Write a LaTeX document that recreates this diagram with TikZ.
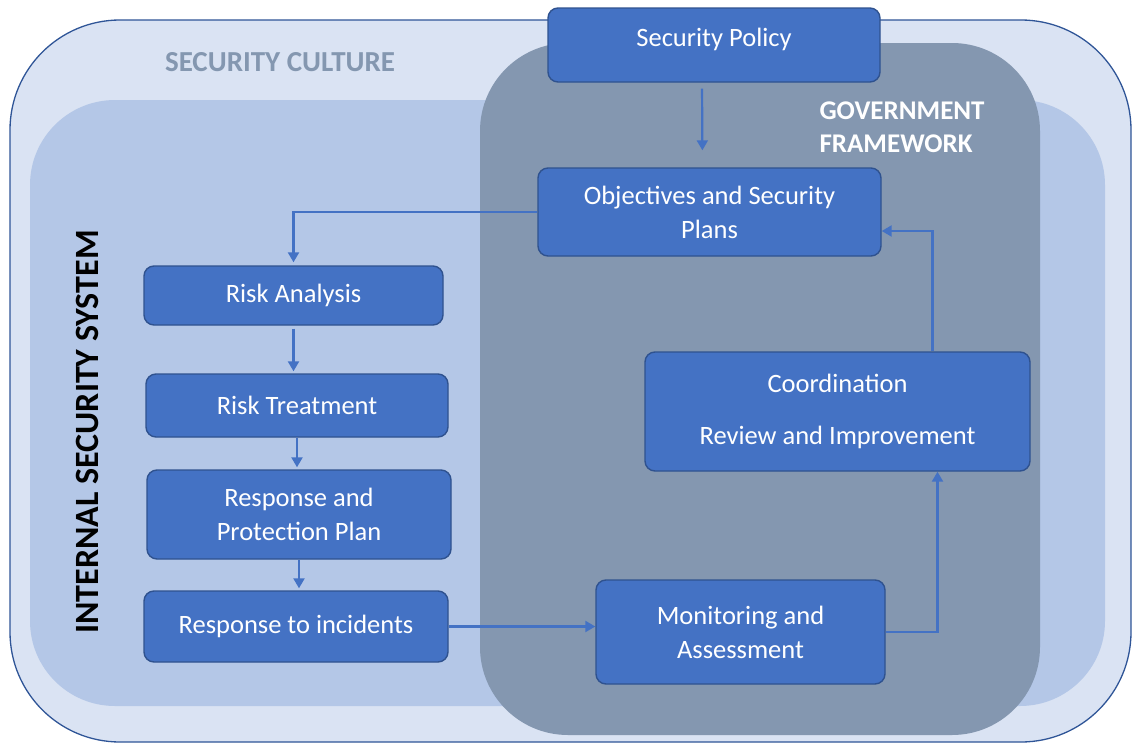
\documentclass[tikz,border=0pt]{standalone}
\usepackage{fontspec}
\setmainfont{Carlito}
\usetikzlibrary{arrows.meta}

\definecolor{culturefill}{HTML}{DAE3F3}
\definecolor{cultureedge}{HTML}{2F5597}
\definecolor{systemfill}{HTML}{B4C7E7}
\definecolor{govfill}{HTML}{8497B0}
\definecolor{boxblue}{HTML}{4472C4}
\definecolor{boxedge}{HTML}{2F528F}

\begin{document}
\begin{tikzpicture}[
  x=1pt, y=-1pt,
  stepbox/.style={rectangle, rounded corners=10pt, draw=boxedge, fill=boxblue,
                  line width=1.4pt, text=white, align=center,
                  font=\fontsize{26.5}{34}\selectfont},
  flow/.style={draw=boxblue, line width=2.2pt,
               -{Triangle[length=10pt,width=11pt]}},
  zonetitle/.style={font=\bfseries\fontsize{27}{33}\selectfont},
]
\useasboundingbox (0,0) rectangle (1133,744);

% ── Background zones ───────────────────────────────────────────────────
\draw[fill=culturefill, draw=cultureedge, line width=1.3pt, rounded corners=110pt]
  (10,20) rectangle (1131,742);
\fill[systemfill, rounded corners=85pt] (30,100) rectangle (1105,706);
\fill[govfill, rounded corners=88pt] (480,43) rectangle (1040,735);

\node[zonetitle, font=\bfseries\fontsize{29}{33}\selectfont, text=govfill]
  (culture) at (280,62) {SECURITY CULTURE};
\node[zonetitle, text=white, align=left, anchor=west] (gov) at (816,127)
  {GOVERNMENT\\FRAMEWORK};
\node[zonetitle, font=\bfseries\fontsize{34}{38}\selectfont, rotate=90]
  (system) at (87,432) {INTERNAL SECURITY SYSTEM};

% ── Governance column ─────────────────────────────────────────────────
\node[stepbox, minimum width=332pt, minimum height=74pt,
      text height=18pt, text depth=16pt] (policy) at (714,45)
  {Security Policy};
\node[stepbox, minimum width=343pt, minimum height=88pt] (plans) at (709.5,212)
  {Objectives and Security\\Plans};
\node[stepbox, minimum width=385pt, minimum height=119pt] (review) at (837.5,411.5)
  {Coordination\\[18pt]Review and Improvement};
\node[stepbox, minimum width=289pt, minimum height=104pt] (monitor) at (740.5,632)
  {Monitoring and\\Assessment};

% ── Risk column ───────────────────────────────────────────────────────
\node[stepbox, minimum width=299pt, minimum height=59pt] (analysis) at (293.5,295.5)
  {Risk Analysis};
\node[stepbox, minimum width=302pt, minimum height=63pt] (treatment) at (297,405.5)
  {Risk Treatment};
\node[stepbox, minimum width=304pt, minimum height=89pt] (protect) at (299,514.5)
  {Response and\\Protection Plan};
\node[stepbox, minimum width=304pt, minimum height=71pt] (incidents) at (296,626.5)
  {Response to incidents};

% ── Connectors ────────────────────────────────────────────────────────
\draw[flow, shorten <=6pt, shorten >=17pt]
  ([xshift=-12pt]policy.south) -- ([xshift=-7pt]plans.north);
\draw[flow, shorten >=3pt] (plans.west) -| (analysis.north);
\draw[flow, shorten <=3pt, shorten >=2pt]
  (analysis.south) -- (analysis.south |- treatment.north);
\draw[flow, shorten >=2pt] (treatment.south) -- (treatment.south |- protect.north);
\draw[flow, shorten >=2pt] (protect.south) -- (protect.south |- incidents.north);
\draw[flow] (incidents.east) -- (incidents.east -| monitor.west);
\draw[flow] (monitor.east) -| ([xshift=100pt]review.south);
\draw[flow] ([xshift=95pt]review.north) |- ([yshift=-19pt]plans.east);

\end{tikzpicture}
\end{document}
